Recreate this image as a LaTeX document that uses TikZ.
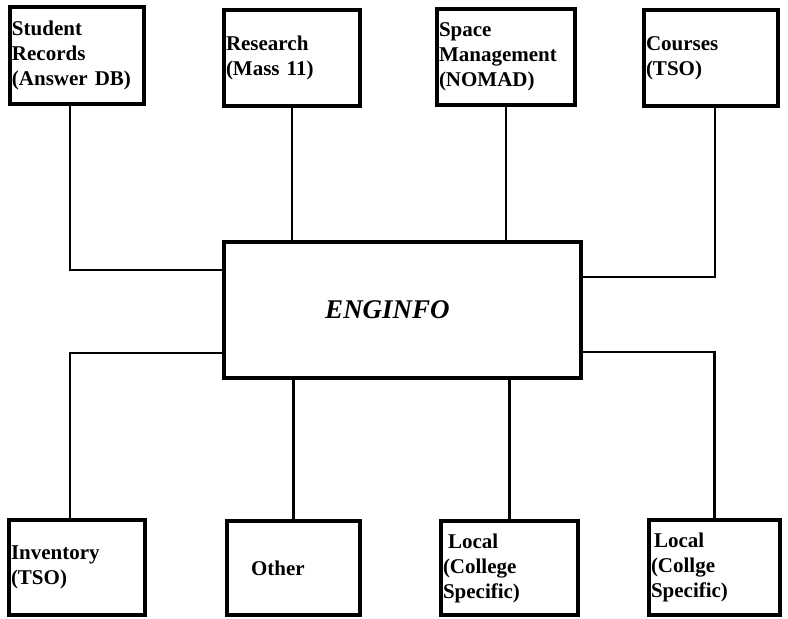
\documentclass[tikz,border=0pt]{standalone}
\usepackage{fontspec}
\setmainfont{Liberation Serif}
\begin{document}
\begin{tikzpicture}[x=1pt, y=-1pt,
    box/.style = {draw, line width=4.5pt, align=left, inner xsep=2pt,
                  font=\bfseries\fontsize{21}{25}\selectfont},
    link/.style = {line width=2.5pt}]
    \useasboundingbox (0,0) rectangle (788,619);
    % upper row
    \node[box, text width=130pt, minimum height=97pt] (rec) at (77,55.5) {Student\\Records\\(Answer DB)};
    \node[box, text width=132pt, minimum height=96pt] (res) at (292,58) {Research\\(Mass 11)};
    \node[box, text width=134pt, minimum height=96pt] (spc) at (506,57) {Space\\Management\\(NOMAD)};
    \node[box, text width=130pt, minimum height=96pt] (crs) at (711,58) {Courses\\(TSO)};
    % centre
    \node[draw, line width=4.5pt, minimum width=357pt, minimum height=136pt,
          font=\bfseries\itshape\fontsize{27}{30}\selectfont] (engin) at (402.5,310) {ENGINFO\hspace*{30pt}};
    % lower row
    \node[box, text width=132pt, minimum height=95pt] (inv) at (77,567.5) {Inventory\\(TSO)};
    \node[box, text width=129pt, minimum height=94pt] (oth) at (293.5,568) {\hspace*{22pt}Other};
    \node[box, text width=133pt, minimum height=94pt] (lc1) at (509.5,568) {\hspace*{5pt}Local\\(College\\Specific)};
    \node[box, text width=127pt, minimum height=95pt] (lc2) at (714.5,567.5) {\hspace*{3pt}Local\\(Collge\\Specific)};
    % connectors
    \draw[link] ([yshift=40pt]engin.west) -| ([xshift=-7pt]rec.south);
    \draw[link] (res.south) -- (res.south |- engin.north);
    \draw[link] (spc.south) -- (spc.south |- engin.north);
    \draw[link] ([yshift=33pt]engin.east) -| ([xshift=4pt]crs.south);
    \draw[link] ([yshift=-43pt]engin.west) -| ([xshift=-7pt]inv.north);
    \draw[link] (oth.north) -- (oth.north |- engin.south);
    \draw[link] (lc1.north) -- (lc1.north |- engin.south);
    \draw[link] ([yshift=-42pt]engin.east) -| (lc2.north);
\end{tikzpicture}
\end{document}
